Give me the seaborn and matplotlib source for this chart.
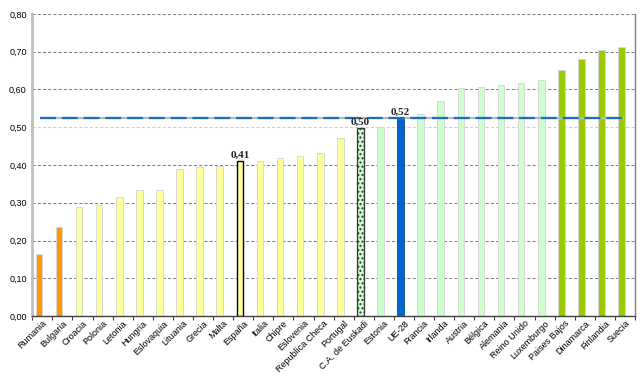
import matplotlib
matplotlib.use("Agg")
import matplotlib.pyplot as plt
import seaborn as sns
import pandas as pd
from matplotlib.ticker import FuncFormatter, FixedLocator

categories = ["Rumania", "Bulgaria", "Croacia", "Polonia", "Letonia", "Hungria",
              "Eslovaquia", "Lituania", "Grecia", "Malta", "España", "Italia",
              "Chipre", "Eslovenia", "Republica Checa", "Portugal", "C.A. de Euskadi",
              "Estonia", "UE-28", "Francia", "Irlanda", "Austria", "Bélgica",
              "Alemania", "Reino Unido", "Luxemburgo", "Paises Bajos", "Dinamarca",
              "Finlandia", "Suecia"]
values = [0.164, 0.235, 0.288, 0.294, 0.316, 0.333, 0.333, 0.390, 0.394, 0.397,
          0.41, 0.411, 0.419, 0.423, 0.432, 0.471, 0.497, 0.500, 0.524, 0.535,
          0.569, 0.603, 0.606, 0.612, 0.617, 0.624, 0.652, 0.681, 0.705, 0.713]
groups = (["bajo"] * 2 + ["medio"] * 14 + ["euskadi"] + ["alto"] + ["ue"]
          + ["alto"] * 7 + ["top"] * 4)
ue_average = 0.524
bar_labels = {"España": "0,41", "C.A. de Euskadi": "0,50", "UE-28": "0,52"}

group_colors = {"bajo": "#FF9900", "medio": "#FFFF99", "euskadi": "#CCFFCC",
                "alto": "#CCFFCC", "ue": "#0066CC", "top": "#99CC00"}
colors = [group_colors[g] for g in groups]

sns.set_theme(style="white")
plt.rcParams["font.family"] = ["Liberation Sans", "DejaVu Sans"]

fig = plt.figure(figsize=(6.43, 3.91), dpi=100)
ax = fig.add_axes([0.0502, 0.1918, 0.9374, 0.7724])

df = pd.DataFrame({"pais": categories, "valor": values})
sns.barplot(data=df, x="pais", y="valor", hue="pais", palette=colors,
            legend=False, width=0.33, saturation=1, ax=ax)

offset = -0.17
for i, p in enumerate(ax.patches[:len(categories)]):
    p.set_x(p.get_x() + offset)
    name = categories[i]
    if name == "España":
        p.set_edgecolor("#000000"); p.set_linewidth(1.0)
    elif name == "C.A. de Euskadi":
        p.set_edgecolor("#333333"); p.set_linewidth(0.9); p.set_hatch("....")
    elif name == "UE-28":
        p.set_edgecolor("#004c99"); p.set_linewidth(0.6)
    else:
        p.set_edgecolor("#d8d8d8"); p.set_linewidth(0.7)

ax.set_xlim(-0.5, len(categories) - 0.5)
ax.set_ylim(0, 0.8)
ax.set_yticks([0.0, 0.1, 0.2, 0.3, 0.4, 0.5, 0.6, 0.7, 0.8])
ax.yaxis.set_major_formatter(FuncFormatter(lambda v, _: f"{v:.2f}".replace(".", ",")))
ax.yaxis.grid(True, color="#808080", linestyle=(0, (3, 2)), linewidth=0.75)
ax.set_axisbelow(True)
ax.get_ygridlines()[5].set_color("#cccccc")

# average line
ax.hlines(ue_average, -0.1, len(categories) - 1.05, color="#b8b8b8", linewidth=1.6, zorder=4)
ax.hlines(ue_average, -0.1, len(categories) - 1.05, color="#1a6fc0", linewidth=1.6,
          linestyle=(0, (7.2, 2.6)), zorder=5)

for i, name in enumerate(categories):
    if name in bar_labels:
        ax.text(i + offset, values[i] + 0.004, bar_labels[name], ha="center", va="bottom",
                fontsize=8, fontweight="bold", family=["Liberation Serif", "DejaVu Serif"],
                zorder=6)

ax.set_xlabel("")
ax.set_ylabel("")
ax.tick_params(axis="x", which="major", length=0, labelsize=6.5, pad=2)
plt.setp(ax.get_xticklabels(), rotation=45, ha="right", rotation_mode="anchor")
ax.xaxis.set_minor_locator(FixedLocator([i - 0.5 for i in range(len(categories) + 1)]))
ax.tick_params(axis="x", which="minor", bottom=True, length=3, width=0.8, color="#404040",
               direction="out")
ax.tick_params(axis="y", length=0, labelsize=6.5, pad=4)

for lab in ax.get_xticklabels() + ax.get_yticklabels():
    lab.set_color("#000000")

ax.spines["top"].set_visible(False)
ax.spines["left"].set_color("#c0c0c0")
ax.spines["left"].set_linewidth(2)
ax.spines["bottom"].set_color("#404040")
ax.spines["bottom"].set_linewidth(1)
ax.spines["right"].set_color("#808080")
ax.spines["right"].set_linewidth(1)

fig.savefig("out.png", dpi=100)
